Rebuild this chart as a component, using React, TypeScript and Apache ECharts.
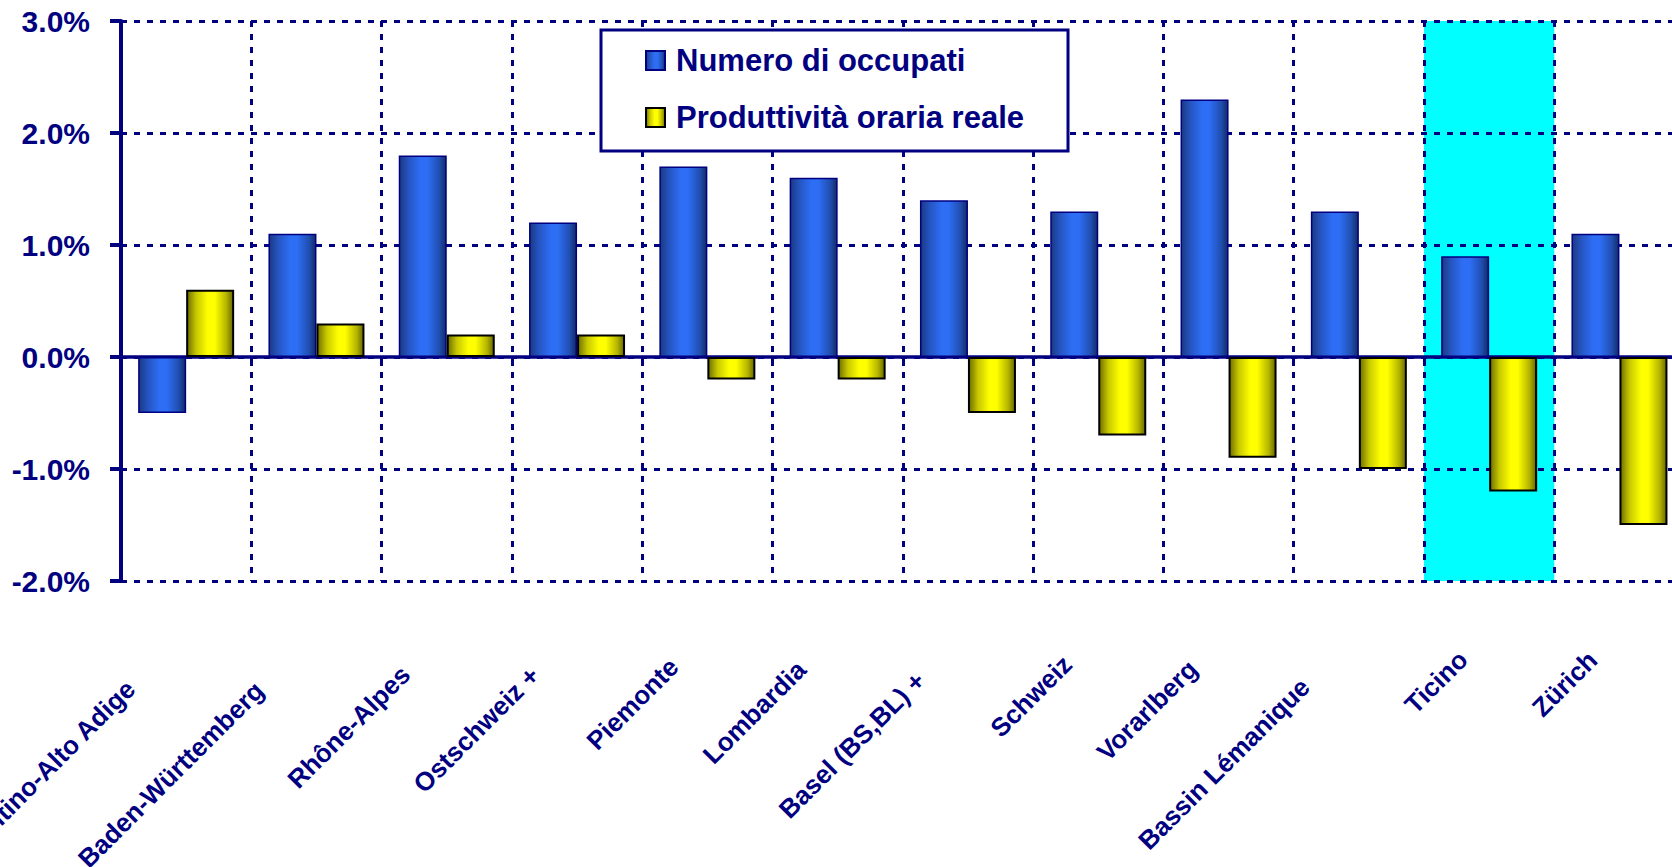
import React, { useEffect, useRef } from "react";
import * as echarts from "echarts";

const categories = [
  "Trentino-Alto Adige",
  "Baden-Württemberg",
  "Rhône-Alpes",
  "Ostschweiz +",
  "Piemonte",
  "Lombardia",
  "Basel (BS,BL) +",
  "Schweiz",
  "Vorarlberg",
  "Bassin Lémanique",
  "Ticino",
  "Zürich",
];
const seriesNames = ["Numero di occupati", "Produttività oraria reale"];
const occupati = [-0.5, 1.1, 1.8, 1.2, 1.7, 1.6, 1.4, 1.3, 2.3, 1.3, 0.9, 1.1];
const produttivita = [0.6, 0.3, 0.2, 0.2, -0.2, -0.2, -0.5, -0.7, -0.9, -1.0, -1.2, -1.5];
const yMin = -2;
const yMax = 3;
const yStep = 1;
const highlighted = "Ticino";

const NAVY = "#000080";
const FONT = "'Liberation Sans', Arial, sans-serif";
const X_LABEL_SIZE = 26;

const blueGrad = new echarts.graphic.LinearGradient(0, 0, 1, 0, [
  { offset: 0, color: "#1a3982" },
  { offset: 0.2, color: "#2655c2" },
  { offset: 0.45, color: "#2d6ef5" },
  { offset: 0.6, color: "#2d6ef5" },
  { offset: 0.85, color: "#214fb2" },
  { offset: 1, color: "#122c68" },
]);
const yellowGrad = new echarts.graphic.LinearGradient(0, 0, 1, 0, [
  { offset: 0, color: "#6e6e00" },
  { offset: 0.2, color: "#c8c800" },
  { offset: 0.45, color: "#ffff00" },
  { offset: 0.6, color: "#ffff00" },
  { offset: 0.85, color: "#b5b500" },
  { offset: 1, color: "#686800" },
]);

// Mimic the spreadsheet's placement of rotated labels: longer labels end lower.
function labelItems() {
  const ctx = document.createElement("canvas").getContext("2d");
  return categories.map((c) => {
    let w = c.length * 0.55 * X_LABEL_SIZE;
    if (ctx) {
      ctx.font = `bold ${X_LABEL_SIZE}px ${FONT}`;
      w = ctx.measureText(c).width;
    }
    const em = w / X_LABEL_SIZE;
    const pr = 17.7 + 6.58 * em;
    return { value: c, textStyle: { padding: [0, pr, 0, 0] } };
  });
}

export default function App() {
  const ref = useRef<HTMLDivElement>(null);
  useEffect(() => {
    document.body.style.margin = "0";
    const chart = echarts.init(ref.current!, null, { renderer: "svg" });
    const dotted = { color: NAVY, width: 3, type: [6, 7] as number[] };
    chart.setOption({
      animation: false,
      backgroundColor: "#ffffff",
      textStyle: { fontFamily: FONT },
      grid: {
        left: 121,
        top: 21,
        width: 1563.6,
        height: 560,
        containLabel: false,
        outerBoundsMode: "none",
      },
      legend: {
        orient: "vertical",
        left: 601,
        top: 30,
        padding: [15, 44, 18, 44],
        itemWidth: 19,
        itemHeight: 19,
        itemGap: 26,
        icon: "rect",
        backgroundColor: "#ffffff",
        borderColor: NAVY,
        borderWidth: 3,
        selectedMode: false,
        textStyle: { fontSize: 31, fontWeight: "bold", color: NAVY, fontFamily: FONT, padding: [0, 0, 0, 6] },
        data: seriesNames,
      },
      xAxis: [
        {
          type: "category",
          data: categories,
          position: "bottom",
          axisLine: { show: true, onZero: true, lineStyle: { color: NAVY, width: 3.5 } },
          axisTick: { show: true, interval: 0, length: 9, lineStyle: { color: NAVY, width: 3 } },
          axisLabel: { show: false },
          splitLine: { show: true, interval: 0, lineStyle: dotted },
        },
        {
          type: "category",
          data: labelItems(),
          position: "bottom",
          z: -1,
          axisLine: { show: false, onZero: false },
          axisTick: { show: false },
          axisLabel: {
            show: true,
            interval: 0,
            rotate: 45,
            margin: 48,
            fontSize: X_LABEL_SIZE,
            fontWeight: "bold",
            color: NAVY,
            fontFamily: FONT,
          },
          splitLine: { show: false },
          splitArea: {
            show: true,
            interval: 0,
            areaStyle: {
              color: categories.map((c) => (c === highlighted ? "#00ffff" : "rgba(255,255,255,0)")),
            },
          },
        },
      ],
      yAxis: {
        type: "value",
        min: yMin,
        max: yMax,
        interval: yStep,
        axisLine: { show: true, lineStyle: { color: NAVY, width: 4 } },
        axisTick: { show: true, length: 11, lineStyle: { color: NAVY, width: 4 } },
        axisLabel: {
          margin: 31,
          fontSize: 30,
          fontWeight: "bold",
          color: NAVY,
          fontFamily: FONT,
          formatter: (v: number) => v.toFixed(1) + "%",
        },
        splitLine: { show: true, lineStyle: dotted },
      },
      series: [
        {
          name: seriesNames[0],
          type: "bar",
          xAxisIndex: 0,
          data: occupati,
          barWidth: 48,
          barGap: "0%",
          itemStyle: { color: blueGrad, borderColor: NAVY, borderWidth: 1.5 },
        },
        {
          name: seriesNames[1],
          type: "bar",
          xAxisIndex: 0,
          data: produttivita,
          barWidth: 48,
          barGap: "0%",
          itemStyle: { color: yellowGrad, borderColor: "#000000", borderWidth: 2 },
        },
      ],
    });
    return () => chart.dispose();
  }, []);
  return (
    <div style={{ position: "fixed", left: 0, top: 0, width: 1672, height: 867, overflow: "hidden", background: "#fff" }}>
      <div ref={ref} style={{ width: 1700, height: 867 }} />
    </div>
  );
}
